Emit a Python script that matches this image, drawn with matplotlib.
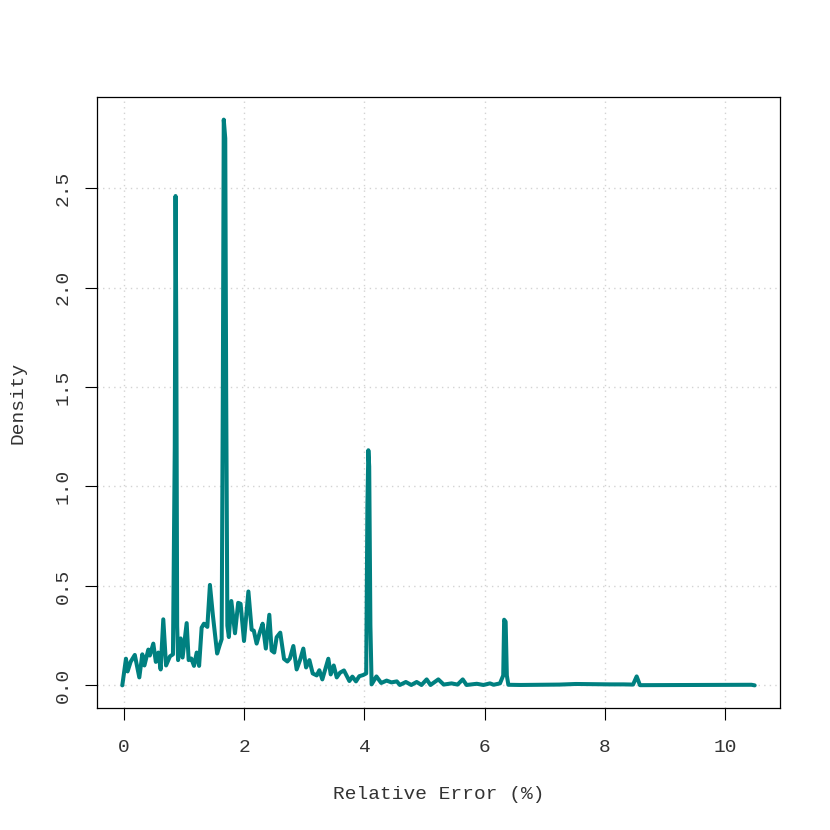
import matplotlib
matplotlib.use('Agg')
import matplotlib.pyplot as plt
import numpy as np

# density curve of relative error
rel_err = [
    -0.028, 0.033, 0.06, 0.11, 0.18, 0.255, 0.305, 0.34, 0.405, 0.43,
    0.488, 0.53, 0.571, 0.61, 0.654, 0.7, 0.765, 0.815, 0.845, 0.858,
    0.87, 0.885, 0.9, 0.943, 0.975, 1.043, 1.076, 1.12, 1.165, 1.21,
    1.25, 1.292, 1.33, 1.387, 1.43, 1.48, 1.55, 1.59, 1.625, 1.645,
    1.66, 1.685, 1.7, 1.72, 1.745, 1.786, 1.847, 1.9, 1.94, 1.997,
    2.07, 2.124, 2.16, 2.207, 2.263, 2.307, 2.36, 2.418, 2.457, 2.5,
    2.54, 2.6, 2.663, 2.718, 2.76, 2.818, 2.873, 2.929, 2.984, 3.03,
    3.085, 3.14, 3.207, 3.25, 3.3, 3.4, 3.44, 3.49, 3.54, 3.595,
    3.66, 3.75, 3.8, 3.86, 3.915, 3.98, 4.03, 4.05, 4.066, 4.08,
    4.1, 4.12, 4.2, 4.28, 4.37, 4.45, 4.54, 4.59, 4.69, 4.78,
    4.87, 4.95, 5.036, 5.1, 5.23, 5.32, 5.45, 5.55, 5.636, 5.7,
    5.87, 5.98, 6.09, 6.15, 6.256, 6.31, 6.325, 6.35, 6.37, 6.395,
    6.6, 7.25, 7.52, 8.09, 8.31, 8.47, 8.53, 8.585, 10.44, 10.494,
]
density = [
    0.0, 0.134, 0.07, 0.118, 0.153, 0.04, 0.156, 0.1, 0.18, 0.15,
    0.21, 0.118, 0.165, 0.08, 0.332, 0.1, 0.146, 0.156, 1.2, 2.46,
    1.8, 0.3, 0.127, 0.236, 0.14, 0.313, 0.127, 0.135, 0.098, 0.165,
    0.098, 0.29, 0.31, 0.294, 0.505, 0.35, 0.16, 0.2, 0.232, 1.5,
    2.844, 2.75, 1.5, 0.3, 0.243, 0.424, 0.262, 0.415, 0.41, 0.223,
    0.472, 0.28, 0.275, 0.21, 0.27, 0.31, 0.185, 0.355, 0.175, 0.165,
    0.242, 0.265, 0.133, 0.12, 0.135, 0.198, 0.08, 0.127, 0.185, 0.09,
    0.127, 0.06, 0.05, 0.076, 0.03, 0.134, 0.055, 0.1, 0.04, 0.064,
    0.075, 0.022, 0.044, 0.02, 0.046, 0.052, 0.06, 0.9, 1.182, 1.1,
    0.3, 0.005, 0.045, 0.012, 0.024, 0.015, 0.02, 0.002, 0.017, 0.002,
    0.017, 0.002, 0.03, 0.002, 0.03, 0.004, 0.01, 0.004, 0.03, 0.002,
    0.008, 0.002, 0.01, 0.003, 0.01, 0.05, 0.33, 0.32, 0.05, 0.003,
    0.002, 0.004, 0.007, 0.005, 0.005, 0.004, 0.045, 0.001, 0.003, 0.0,
]
xticks = [0, 2, 4, 6, 8, 10]
yticks = [0.0, 0.5, 1.0, 1.5, 2.0, 2.5]

plt.rcParams['font.family'] = ['Liberation Mono', 'DejaVu Sans Mono']
plt.rcParams['font.size'] = 14

fig = plt.figure(figsize=(8.3, 8.3), dpi=100)
ax = fig.add_axes([97/830, 1-708/830, (780-97)/830, (708-97)/830])

x = np.array(rel_err)
y = np.array(density)
# R-style 4% padding around the data range
xr = x.max() - x.min()
yr = y.max() - y.min()
ax.set_xlim(x.min() - 0.04*xr, x.max() + 0.04*xr)
ax.set_ylim(y.min() - 0.04*yr, y.max() + 0.04*yr)

for v in xticks:
    ax.axvline(v, color='lightgray', lw=1, ls=(0, (1, 3)), zorder=1)
for v in yticks:
    ax.axhline(v, color='lightgray', lw=1, ls=(0, (1, 3)), zorder=1)

ax.plot(x, y, color='#008080', lw=2.9, solid_capstyle='round', zorder=3)

ax.set_xticks(xticks)
ax.set_xticklabels([str(t) for t in xticks])
ax.set_yticks(yticks)
ax.set_yticklabels([f'{t:.1f}' for t in yticks], rotation=90, va='center')
ax.tick_params(direction='out', length=8.6, width=0.8, color='black',
               labelcolor='#333333')
ax.tick_params(axis='x', pad=14)
ax.tick_params(axis='y', pad=9.5)
for s in ax.spines.values():
    s.set_linewidth(0.9)
    s.set_color('black')

fig.text((97+780)/2/830, 1-794/830, 'Relative Error (%)', ha='center', va='center',
         color='#333333')
fig.text(18/830, 1-402.5/830, 'Density', ha='center', va='center', rotation=90,
         color='#333333')

fig.savefig('out.png', dpi=100)
